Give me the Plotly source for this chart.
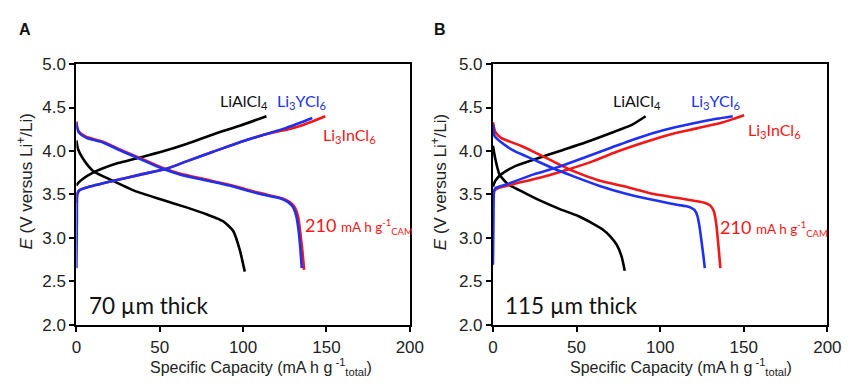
import plotly.graph_objects as go

# ---------------- Panel A (70 um) ----------------
a_al_chg_x = [0, 1, 4, 10, 16, 25, 35, 51, 66, 82, 98, 114]
a_al_chg_y = [3.60, 3.63, 3.68, 3.75, 3.80, 3.86, 3.91, 3.99, 4.08, 4.19, 4.29, 4.40]
a_al_dis_x = [0, 1, 4, 10, 21.5, 35, 51, 66, 78, 88, 94, 98, 101]
a_al_dis_y = [4.12, 4.02, 3.91, 3.77, 3.66, 3.54, 3.44, 3.35, 3.27, 3.19, 3.08, 2.86, 2.61]

a_y_chg_x = [0, 0.3, 0.6, 2, 8, 23, 39, 55, 66, 82, 98, 113, 125, 135, 141.5]
a_y_chg_y = [2.65, 3.20, 3.50, 3.55, 3.59, 3.66, 3.73, 3.80, 3.88, 3.99, 4.10, 4.19, 4.26, 4.33, 4.38]
a_y_dis_x = [0, 0.5, 1.6, 6, 15.6, 27, 39, 51, 62, 78, 94, 109, 123, 127, 130, 132, 133.3, 134.3, 135.2]
a_y_dis_y = [4.33, 4.26, 4.21, 4.15, 4.10, 4.00, 3.90, 3.80, 3.73, 3.66, 3.59, 3.51, 3.45, 3.41, 3.35, 3.24, 3.08, 2.88, 2.65]

a_in_chg_x = [0, 0.3, 0.6, 2, 8, 23, 39, 55, 66, 82, 98, 113, 129, 136, 141.5, 149.3]
a_in_chg_y = [3.40, 3.48, 3.52, 3.55, 3.59, 3.66, 3.73, 3.80, 3.88, 3.99, 4.10, 4.19, 4.26, 4.30, 4.34, 4.40]
a_in_dis_x = [0, 0.5, 1.6, 6, 15.6, 27, 39, 51, 62, 78, 94, 109, 124, 128, 131, 133, 134.3, 135.5, 136.6]
a_in_dis_y = [4.34, 4.27, 4.22, 4.16, 4.11, 4.01, 3.91, 3.81, 3.74, 3.67, 3.60, 3.52, 3.45, 3.41, 3.35, 3.24, 3.06, 2.86, 2.63]

# ---------------- Panel B (115 um) ----------------
b_al_chg_x = [0, 1.5, 4.9, 12.7, 26, 40, 55.6, 71, 83, 91.3]
b_al_chg_y = [3.59, 3.66, 3.73, 3.82, 3.91, 4.00, 4.10, 4.21, 4.30, 4.40]
b_al_dis_x = [0, 1.4, 3.9, 8.8, 16.6, 28, 40, 51, 60, 66, 70, 74, 77, 78.8]
b_al_dis_y = [4.06, 3.91, 3.73, 3.62, 3.54, 3.43, 3.33, 3.25, 3.16, 3.09, 3.02, 2.92, 2.78, 2.62]

b_y_chg_x = [0, 0.3, 0.6, 1.4, 8.8, 24.4, 40, 55.6, 71, 86.8, 102.4, 118, 133.7, 143.4]
b_y_chg_y = [2.69, 3.20, 3.52, 3.57, 3.62, 3.73, 3.82, 3.93, 4.04, 4.15, 4.24, 4.31, 4.37, 4.40]
b_y_dis_x = [0, 1, 4.9, 12.7, 24.4, 36, 47.8, 63.4, 79, 94.6, 110, 115, 118, 120.5, 122.3, 123.6, 124.8, 125.8, 126.7]
b_y_dis_y = [4.31, 4.17, 4.10, 4.00, 3.90, 3.80, 3.71, 3.60, 3.51, 3.44, 3.38, 3.365, 3.35, 3.32, 3.25, 3.12, 2.95, 2.80, 2.65]

b_in_chg_x = [0, 0.5, 2.9, 12.7, 28, 43.9, 59.5, 74, 90.7, 106, 122, 137.6, 145.4, 150.2]
b_in_chg_y = [3.51, 3.54, 3.57, 3.62, 3.69, 3.78, 3.88, 3.99, 4.10, 4.19, 4.26, 4.33, 4.38, 4.41]
b_in_dis_x = [0, 1.4, 4.9, 16.6, 24.4, 36, 47.8, 63.4, 79, 94.6, 110, 122, 127, 130, 132, 133.4, 134.4, 135.2, 136]
b_in_dis_y = [4.33, 4.22, 4.15, 4.06, 3.99, 3.88, 3.77, 3.66, 3.59, 3.51, 3.46, 3.42, 3.40, 3.37, 3.31, 3.18, 3.00, 2.83, 2.65]

BLACK = "#000000"
BLUE = "#2030f0"
RED = "#f01818"
LW = 2.6

fig = go.Figure()

def add(x, y, color, xa, ya):
    fig.add_trace(go.Scatter(x=x, y=y, mode="lines",
                             line=dict(color=color, width=LW, shape="spline", smoothing=0.6),
                             xaxis=xa, yaxis=ya, showlegend=False, hoverinfo="skip"))

for xa, ya, sets in [
    ("x", "y", [(a_al_chg_x, a_al_chg_y, BLACK), (a_al_dis_x, a_al_dis_y, BLACK),
                (a_in_chg_x, a_in_chg_y, RED), (a_in_dis_x, a_in_dis_y, RED),
                (a_y_chg_x, a_y_chg_y, BLUE), (a_y_dis_x, a_y_dis_y, BLUE)]),
    ("x2", "y2", [(b_al_chg_x, b_al_chg_y, BLACK), (b_al_dis_x, b_al_dis_y, BLACK),
                  (b_in_chg_x, b_in_chg_y, RED), (b_in_dis_x, b_in_dis_y, RED),
                  (b_y_chg_x, b_y_chg_y, BLUE), (b_y_dis_x, b_y_dis_y, BLUE)]),
]:
    for x, y, c in sets:
        add(x, y, c, xa, ya)

TICKFONT = dict(family="Liberation Sans, Arial, sans-serif", size=17, color="#222")
axis_common = dict(showgrid=False, zeroline=False, showline=True, linecolor="black",
                   linewidth=2, mirror=True, ticks="outside", ticklen=5, tickwidth=2,
                   tickcolor="black", tickfont=TICKFONT)

xdomA = [73 / 858, 414 / 858]
xdomB = [499 / 858, 841 / 858]
ydom = [1 - 332 / 384, 1 - 58 / 384]

fig.update_layout(
    width=858, height=384, margin=dict(l=0, r=0, t=0, b=0),
    paper_bgcolor="white", plot_bgcolor="white",
    xaxis=dict(domain=xdomA, range=[0, 200], tickvals=[0, 50, 100, 150, 200], anchor="y",
               ticklabelstandoff=1, **axis_common),
    yaxis=dict(domain=ydom, range=[2.0, 5.0], tickvals=[2.0, 2.5, 3.0, 3.5, 4.0, 4.5, 5.0],
               tickformat=".1f", anchor="x", **axis_common),
    xaxis2=dict(domain=xdomB, range=[0, 200], tickvals=[0, 50, 100, 150, 200], anchor="y2",
                ticklabelstandoff=1, **axis_common),
    yaxis2=dict(domain=ydom, range=[2.0, 5.0], tickvals=[2.0, 2.5, 3.0, 3.5, 4.0, 4.5, 5.0],
                tickformat=".1f", anchor="x2", **axis_common),
)

LBL = "Lato, Open Sans, sans-serif"
ann = []

def label(xref, yref, x, y, text, color, size):
    ann.append(dict(xref=xref, yref=yref, x=x, y=y, text=text, showarrow=False,
                    xanchor="left", yanchor="middle",
                    font=dict(family=LBL, size=size, color=color)))

for xr, yr, pos in [
    ("x", "y", dict(al=(85, 4.57), yc=(119, 4.57), inc=(147, 4.18), cam=(136, 3.14),
                   th=(6.5, 2.22, "70 µm thick"))),
    ("x2", "y2", dict(al=(70.5, 4.57), yc=(117, 4.57), inc=(151.5, 4.23), cam=(134.5, 3.12),
                     th=(6, 2.22, "115 µm thick"))),
]:
    label(xr, yr, *pos["al"], "LiAlCl<sub>4</sub>", "#111", 16)
    label(xr, yr, *pos["yc"], "Li<sub>3</sub>YCl<sub>6</sub>", BLUE, 16)
    label(xr, yr, *pos["inc"], "Li<sub>3</sub>InCl<sub>6</sub>", RED, 16)
    label(xr, yr, *pos["cam"],
          "210 <span style='font-size:13.5px'>mA h g<sup>-1</sup><sub>CAM</sub></span>", RED, 18)
    label(xr, yr, pos["th"][0], pos["th"][1], pos["th"][2], "#111", 22.5)

YTF = dict(family="Liberation Sans, Arial, sans-serif", size=17, color="#222")
XTF = dict(family="Liberation Sans, Arial, sans-serif", size=16, color="#222")
for cx, xt in [(20 / 858, 262 / 858), (444 / 858, 691 / 858)]:
    ann.append(dict(xref="paper", yref="paper", x=cx, y=1 - 182 / 384, textangle=-90,
                    text="<i>E</i> (V versus Li<sup>+</sup>/Li)", showarrow=False,
                    xanchor="center", yanchor="middle", font=YTF))
    ann.append(dict(xref="paper", yref="paper", x=xt, y=1 - 377 / 384,
                    text="Specific Capacity (mA h g<sup> -1</sup><sub>total</sub>)", showarrow=False,
                    xanchor="center", yanchor="middle", font=XTF))

for px, t in [(20 / 858, "A"), (445 / 858, "B")]:
    ann.append(dict(xref="paper", yref="paper", x=px, y=1 - 22 / 384, text="<b>%s</b>" % t,
                    showarrow=False, xanchor="center", yanchor="middle",
                    font=dict(family="Liberation Sans, Arial, sans-serif", size=16, color="#111")))

fig.update_layout(annotations=ann)
fig.write_html("out.html")
